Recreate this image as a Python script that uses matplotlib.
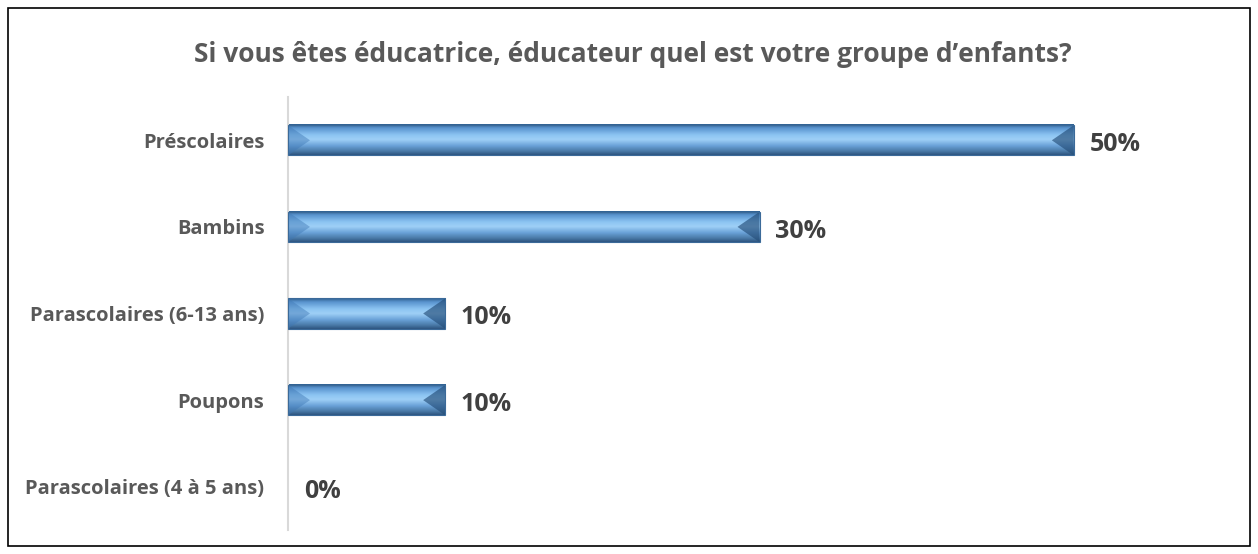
import numpy as np
import matplotlib.pyplot as plt
from matplotlib.colors import LinearSegmentedColormap
from matplotlib.patches import Rectangle, Polygon

plt.rcParams['font.family'] = ['Open Sans', 'DejaVu Sans']

# data
categories = ['Préscolaires', 'Bambins', 'Parascolaires (6-13 ans)',
              'Poupons', 'Parascolaires (4 à 5 ans)']
values = [50, 30, 10, 10, 0]
title = "Si vous êtes éducatrice, éducateur quel est votre groupe d’enfants?"

grey = '#595959'

fig = plt.figure(figsize=(12.58, 5.54), dpi=100)
ax = fig.add_axes([288 / 1258, 24 / 554, 943 / 1258, 433 / 554])

y = np.arange(len(categories))
bar_h = 0.35

# vertical gradient for the bevelled bar look
cmap = LinearSegmentedColormap.from_list('bev', [
    (0.0, '#2f5f8f'), (0.12, '#5a94cf'), (0.35, '#8cc4f2'),
    (0.5, '#9fd0f7'), (0.7, '#6aa2d8'), (0.88, '#4a7aa8'), (1.0, '#2e5580')])
grad = np.linspace(0, 1, 64).reshape(-1, 1)

for yi, v in zip(y, values):
    if v > 0:
        ax.imshow(grad, cmap=cmap, aspect='auto', interpolation='bilinear',
                  extent=[0, v, yi + bar_h / 2, yi - bar_h / 2], zorder=2)
        # bevel ends
        bw = 1.4
        ax.add_patch(Polygon([[0, yi - bar_h / 2], [bw, yi], [0, yi + bar_h / 2]],
                             closed=True, facecolor='#3f78b5', alpha=0.45,
                             edgecolor='none', zorder=3))
        ax.add_patch(Polygon([[v, yi - bar_h / 2], [v - bw, yi], [v, yi + bar_h / 2]],
                             closed=True, facecolor='#244d78', alpha=0.65,
                             edgecolor='none', zorder=3))
        ax.add_patch(Rectangle((0, yi - bar_h / 2), v, bar_h, fill=False,
                               edgecolor='#3b6a99', linewidth=0.8, zorder=4))
    ax.text(v + 1.0, yi + 0.05, f'{v}%', va='center', ha='left',
            fontsize=18, fontweight='bold', color='#404040')

ax.set_xlim(0, 60)
ax.set_ylim(len(categories) - 0.5, -0.5)
ax.set_yticks(y)
ax.set_yticklabels(categories, fontsize=14.5, fontweight='bold', color=grey)
ax.tick_params(axis='y', length=0, pad=17)
ax.set_xticks([])
for s in ['top', 'right', 'bottom']:
    ax.spines[s].set_visible(False)
ax.spines['left'].set_color('#d9d9d9')
ax.spines['left'].set_linewidth(1.5)

fig.text(633 / 1258, 1 - 54 / 554, title, ha='center', va='center',
         fontsize=19, fontweight='bold', color=grey)

# outer frame
fig.add_artist(Rectangle((8 / 1258, 8 / 554), 1242 / 1258, 538 / 554,
                         transform=fig.transFigure, fill=False,
                         edgecolor='black', linewidth=1.2))

fig.savefig('out.png', dpi=100)
